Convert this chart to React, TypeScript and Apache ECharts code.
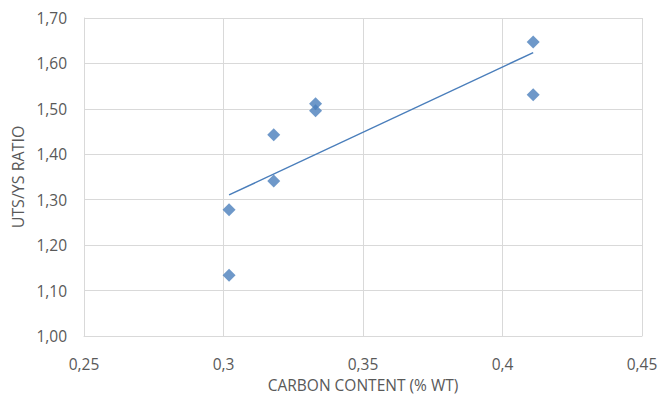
import React, { useEffect, useRef } from "react";
import * as echarts from "echarts";

const carbonContent = [0.302, 0.302, 0.318, 0.318, 0.333, 0.333, 0.411, 0.411];
const utsYsRatio = [1.278, 1.134, 1.443, 1.341, 1.511, 1.496, 1.647, 1.531];
const xTicks = [0.25, 0.3, 0.35, 0.4, 0.45];
const yTicks = [1.0, 1.1, 1.2, 1.3, 1.4, 1.5, 1.6, 1.7];
const xTitle = "CARBON CONTENT (% WT)";
const yTitle = "UTS/YS RATIO";

function regression(xs: number[], ys: number[]) {
  const n = xs.length;
  const mx = xs.reduce((a, b) => a + b, 0) / n;
  const my = ys.reduce((a, b) => a + b, 0) / n;
  let sxx = 0, sxy = 0;
  for (let i = 0; i < n; i++) {
    sxx += (xs[i] - mx) ** 2;
    sxy += (xs[i] - mx) * (ys[i] - my);
  }
  const slope = sxy / sxx;
  return { slope, intercept: my - slope * mx };
}

export default function App() {
  const ref = useRef<HTMLDivElement>(null);
  useEffect(() => {
    if (!ref.current) return;
    const chart = echarts.init(ref.current, undefined, { renderer: "svg" });
    const { slope, intercept } = regression(carbonContent, utsYsRatio);
    const xMin = Math.min(...carbonContent);
    const xMax = Math.max(...carbonContent);
    const trend = [
      [xMin, intercept + slope * xMin],
      [xMax, intercept + slope * xMax],
    ];
    const font = "'Open Sans', sans-serif";
    const labelColor = "#595959";
    const gridColor = "#d9d9d9";
    chart.setOption({
      animation: false,
      textStyle: { fontFamily: font },
      grid: { left: 84, right: 17, top: 18, bottom: 60, containLabel: false, outerBoundsMode: "none" },
      xAxis: {
        type: "value",
        min: xTicks[0],
        max: xTicks[xTicks.length - 1],
        interval: xTicks[1] - xTicks[0],
        name: xTitle,
        nameLocation: "middle",
        nameGap: 41,
        nameTextStyle: { color: labelColor, fontSize: 15.5, lineHeight: 16, fontFamily: font },
        axisLine: { show: true, lineStyle: { color: gridColor } },
        axisTick: { show: false },
        splitLine: { show: true, lineStyle: { color: gridColor, width: 1 } },
        axisLabel: {
          color: labelColor,
          fontSize: 15.5,
          fontFamily: font,
          margin: 20,
          formatter: (v: number) => String(Number(v.toFixed(2))).replace(".", ","),
        },
      },
      yAxis: {
        type: "value",
        min: yTicks[0],
        max: yTicks[yTicks.length - 1],
        interval: 0.1,
        name: yTitle,
        nameLocation: "middle",
        nameGap: 54,
        nameTextStyle: { color: labelColor, fontSize: 16, fontFamily: font },
        axisLine: { show: true, lineStyle: { color: gridColor } },
        axisTick: { show: false },
        splitLine: { show: true, lineStyle: { color: gridColor, width: 1 } },
        axisLabel: {
          color: labelColor,
          fontSize: 15.5,
          fontFamily: font,
          margin: 17,
          formatter: (v: number) => v.toFixed(2).replace(".", ","),
        },
      },
      series: [
        {
          type: "scatter",
          symbol: "diamond",
          symbolSize: 13,
          itemStyle: { color: "#4a7ebb" },
          data: carbonContent.map((x, i) => [x, utsYsRatio[i]]),
          z: 3,
        },
        {
          type: "line",
          data: trend,
          symbol: "none",
          lineStyle: { color: "#4a7ebb", width: 1.5 },
          z: 2,
        },
      ],
    });
    return () => chart.dispose();
  }, []);
  return (
    <div
      ref={ref}
      style={{ position: "fixed", left: 0, top: 0, width: 659, height: 396, background: "#fff" }}
    />
  );
}
